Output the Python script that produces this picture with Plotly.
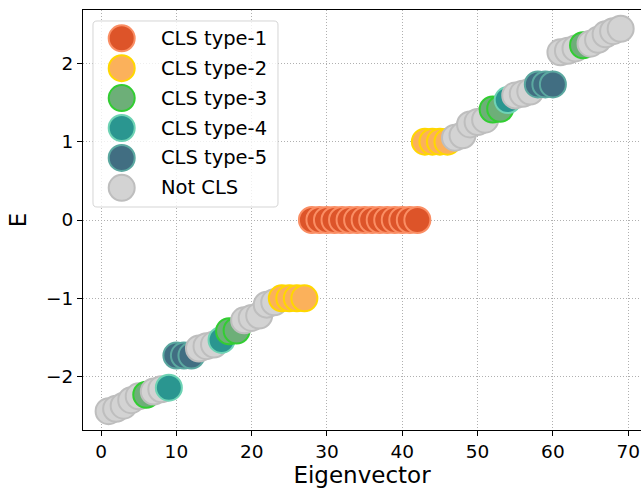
import plotly.graph_objects as go

# ---- data ----
eigen_index = list(range(1, 70))
energies = [
    -2.44, -2.41, -2.37, -2.30, -2.25, -2.23, -2.19, -2.16, -2.14,
    -1.73, -1.73, -1.73, -1.64, -1.61, -1.59, -1.53, -1.42, -1.41,
    -1.28, -1.25, -1.22, -1.08, -1.05,
    -1.0, -1.0, -1.0, -1.0,
    0.0, 0.0, 0.0, 0.0, 0.0, 0.0, 0.0, 0.0, 0.0, 0.0, 0.0, 0.0, 0.0, 0.0, 0.0,
    1.0, 1.0, 1.0, 1.0,
    1.05, 1.08, 1.22, 1.25, 1.28,
    1.41, 1.42, 1.53, 1.59, 1.61, 1.64, 1.73, 1.73, 1.73,
    2.14, 2.16, 2.19, 2.23, 2.25, 2.30, 2.37, 2.41, 2.44,
]
# 0 = Not CLS, 1..5 = CLS type
cls_type = [
    0, 0, 0, 0, 0, 3, 0, 0, 4,
    5, 5, 5, 0, 0, 0, 4, 3, 3,
    0, 0, 0, 0, 0,
    2, 2, 2, 2,
    1, 1, 1, 1, 1, 1, 1, 1, 1, 1, 1, 1, 1, 1, 1,
    2, 2, 2, 2,
    0, 0, 0, 0, 0,
    3, 3, 4, 0, 0, 0, 5, 5, 5,
    0, 0, 0, 3, 0, 0, 0, 0, 0,
]
legend_labels = ["CLS type-1", "CLS type-2", "CLS type-3", "CLS type-4", "CLS type-5", "Not CLS"]
legend_types = [1, 2, 3, 4, 5, 0]
x_ticks = [0, 10, 20, 30, 40, 50, 60, 70]
y_ticks = [-2, -1, 0, 1, 2]

# ---- styles ----
fill = {1: "#DD5429", 2: "#FBB15B", 3: "#6DAF78", 4: "#2A9690", 5: "#416E82", 0: "#D3D3D3"}
edge = {1: "#FA8E64", 2: "#FFD700", 3: "#32CD32", 4: "#6ED3B4", 5: "#5BA8A0", 0: "#BEBEBE"}

W, H = 641, 490
L, R, T, B = 83, 0, 10, 60
pw, ph = W - L - R, H - T - B

def px2paper(px, py):
    return (px - L) / pw, (H - B - py) / ph

fig = go.Figure()
fig.add_trace(go.Scatter(
    x=eigen_index, y=energies, mode="markers", showlegend=False,
    marker=dict(size=26, color=[fill[t] for t in cls_type],
                line=dict(color=[edge[t] for t in cls_type], width=2), opacity=1),
))

shapes = []
annotations = []
# legend box (rounded)
bx0, by0, bx1, by1, r = 93, 21, 278, 207, 4
def P(px, py):
    a, b = px2paper(px, py)
    return f"{a:.5f},{b:.5f}"
path = (f"M {P(bx0 + r, by0)} L {P(bx1 - r, by0)} Q {P(bx1, by0)} {P(bx1, by0 + r)} "
        f"L {P(bx1, by1 - r)} Q {P(bx1, by1)} {P(bx1 - r, by1)} "
        f"L {P(bx0 + r, by1)} Q {P(bx0, by1)} {P(bx0, by1 - r)} "
        f"L {P(bx0, by0 + r)} Q {P(bx0, by0)} {P(bx0 + r, by0)} Z")
shapes.append(dict(type="path", path=path, xref="paper", yref="paper",
                   fillcolor="rgba(255,255,255,0.8)", line=dict(color="#D5D5D5", width=1), layer="above"))
for i, (lab, t) in enumerate(zip(legend_labels, legend_types)):
    cy = 38.3 + i * 29.9
    ax, ay = px2paper(121.7, cy)
    shapes.append(dict(type="circle", xref="paper", yref="paper", xsizemode="pixel", ysizemode="pixel",
                       xanchor=ax, yanchor=ay, x0=-13, x1=13, y0=-13, y1=13,
                       fillcolor=fill[t], line=dict(color=edge[t], width=2), layer="above"))
    tx, ty = px2paper(159, cy)
    annotations.append(dict(x=tx, y=ty, xref="paper", yref="paper", text=lab, showarrow=False,
                            xanchor="left", yanchor="middle", font=dict(size=19.5, color="black")))

axis_common = dict(showline=True, linecolor="black", linewidth=1, ticks="outside", ticklen=5,
                   tickwidth=1, tickcolor="black", showgrid=True, gridcolor="#B0B0B0",
                   griddash="1px,2px", gridwidth=1, zeroline=False,
                   tickfont=dict(size=18.5, color="black"))

fig.update_layout(
    width=W, height=H, margin=dict(l=L, r=R, t=T, b=B),
    plot_bgcolor="white", paper_bgcolor="white",
    font=dict(family="DejaVu Sans", color="black"),
    xaxis=dict(range=[-2.4, 71.7], tickvals=x_ticks, mirror=True,
               title=dict(text="Eigenvector", font=dict(size=23), standoff=4), **axis_common),
    yaxis=dict(range=[-2.68, 2.68], tickvals=y_ticks,
               title=dict(text="E", font=dict(size=23), standoff=12), **axis_common),
    shapes=shapes, annotations=annotations,
)
fig.write_html("out.html")
